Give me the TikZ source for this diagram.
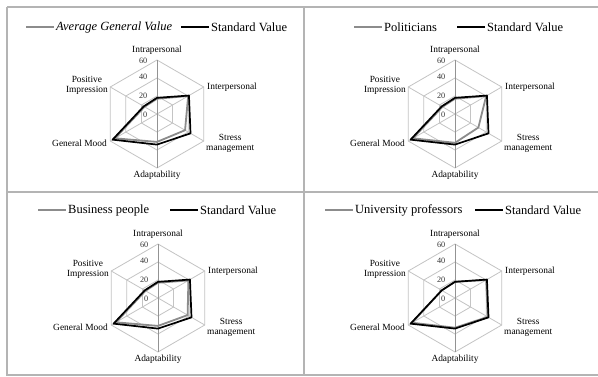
\documentclass[tikz,border=0pt]{standalone}
\usepackage{fontspec}
\setmainfont{Liberation Serif}
\definecolor{gridc}{HTML}{C4C4C4}
\definecolor{borderc}{HTML}{B4B4B4}
\definecolor{serg}{HTML}{8C8C8C}
\tikzset{
  x=1pt, y=1pt,
  ring/.style={draw=gridc, line width=0.8pt},
  spoke/.style={draw=gridc, line width=0.8pt},
  vaxis/.style={draw=gray!85, line width=0.8pt},
  graysr/.style={draw=serg, line width=1.8pt, line join=round},
  blacksr/.style={draw=black, line width=1.7pt, line join=round},
  axlab/.style={font=\fontsize{9.4}{9.8}\selectfont, inner sep=1pt, align=center},
  ticklab/.style={font=\fontsize{8.2}{9}\selectfont, inner sep=0.5pt, text=black!80, anchor=east},
  legtext/.style={font=\fontsize{12.5}{14}\selectfont, inner sep=0pt, anchor=west},
  border/.style={draw=borderc, line width=1.5pt},
}
\newcommand\radarseries[7]{%
  \draw[#1] (90:{#2*0.9}) -- (30:{#3*0.9}) -- (-30:{#4*0.9}) -- (-90:{#5*0.9})
    -- (210:{#6*0.9}) -- (150:{#7*0.9}) -- cycle;}
% #1 prefix, #2 cx, #3 cy, #4 legend y, #5 gray line x, #6 label, #7 black line x, #8 gray values
\newcommand\radarpanel[8]{%
  \begin{scope}[shift={(#2,#3)}]
    \foreach \v in {20,40,60}{%
      \draw[ring] (90:{\v*0.9}) -- (30:{\v*0.9}) -- (-30:{\v*0.9}) -- (-90:{\v*0.9})
        -- (210:{\v*0.9}) -- (150:{\v*0.9}) -- cycle;}
    \foreach \a in {30,-30,210,150} \draw[spoke] (0,0) -- (\a:54);
    \draw[vaxis] (90:54) -- (-90:54);
    \radarseries{graysr}#8
    \radarseries{blacksr}{18}{41}{43}{34}{57}{17}
    \node[ticklab] (#1-t60) at (-9,53.5) {60};
    \node[ticklab] (#1-t40) at (-9,37) {40};
    \node[ticklab] (#1-t20) at (-9,18) {20};
    \node[ticklab] (#1-t0) at (-9,-1) {0};
    \node[axlab, anchor=south] (#1-intra) at (0,58) {Intrapersonal};
    \node[axlab, anchor=west] (#1-inter) at (49,27) {Interpersonal};
    \node[axlab, anchor=west] (#1-stress) at (48,-29) {Stress\\management};
    \node[axlab, anchor=north] (#1-adapt) at (0,-56) {Adaptability};
    \node[axlab, anchor=east] (#1-gm) at (-49,-29) {General Mood};
    \node[axlab, anchor=east] (#1-pi) at (-48,29) {Positive\\Impression};
  \end{scope}
  \coordinate (#1-g1) at (#5,#4);
  \coordinate (#1-g2) at ({#5+28},#4);
  \draw[graysr] (#1-g1) -- (#1-g2);
  \node[legtext] (#1-lab) at ({#5+30},#4) {#6};
  \coordinate (#1-b1) at (#7,#4);
  \coordinate (#1-b2) at ({#7+28},#4);
  \draw[blacksr] (#1-b1) -- (#1-b2);
  \node[legtext] (#1-std) at ({#7+30},#4) {Standard Value};
}
\begin{document}
\begin{tikzpicture}
\fill[white] (0,0) rectangle (598,-376);
\useasboundingbox (0,0) rectangle (598,-376);
\draw[border] (7,-7) -- (598,-7);
\draw[border] (7,-7) -- (7,-376);
\draw[border] (7,-192) -- (598,-192);
\draw[border] (304,-7) -- (304,-376);
\draw[border] (7,-375) -- (598,-375);
\radarpanel{tl}{157}{-114}{-27}{26}{\itshape Average General Value}{181}{{17}{40}{36}{31}{54}{16}}
\radarpanel{tr}{455}{-114}{-27}{354}{Politicians}{457}{{17}{40}{30}{32}{54}{16}}
\radarpanel{bl}{158}{-298}{-210}{38}{Business people}{170}{{17}{39}{38}{31}{54}{16}}
\radarpanel{br}{455}{-298}{-210}{325}{University professors}{475}{{18}{40}{42}{33}{55}{17}}
\end{tikzpicture}
\end{document}
